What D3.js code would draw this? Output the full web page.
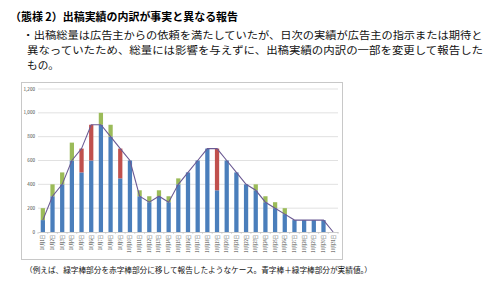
<!DOCTYPE html>
<html>
<head>
<meta charset="utf-8">
<script src="https://cdn.jsdelivr.net/npm/d3@7"></script>
<style>
  html, body { margin: 0; padding: 0; background: #fff; }
  svg { display: block; }
  text { font-family: "Noto Sans CJK JP", "Noto Sans", sans-serif; }
</style>
</head>
<body>
<div id="chart"></div>
<script>
// 10月の日次データ
const days = ["10月1日","10月2日","10月3日","10月4日","10月5日","10月6日","10月7日","10月8日",
  "10月9日","10月10日","10月11日","10月12日","10月13日","10月14日","10月15日","10月16日",
  "10月17日","10月18日","10月19日","10月20日","10月21日","10月22日","10月23日","10月24日",
  "10月25日","10月26日","10月27日","10月28日","10月29日","10月30日","10月31日"];
const blueVals  = [100,300,400,600,500,600,900,800,450,600,300,250,300,250,400,500,
                   600,700,350,600,500,400,350,250,200,150,100,100,100,100,0];
const redVals   = [0,0,0,0,200,300,0,0,250,0,0,0,0,0,0,0,
                   0,0,350,0,0,0,0,0,0,0,0,0,0,0,0];
const greenVals = [100,100,100,150,0,0,100,100,0,0,50,50,50,50,50,0,
                   0,0,0,0,0,0,50,50,50,50,0,0,0,0,0];
const lineVals  = [100,300,400,600,700,900,900,800,700,600,300,250,300,250,400,500,
                   600,700,700,600,500,400,350,250,200,150,100,100,100,100,0];
const yTicks = [0,200,400,600,800,1000,1200];

const W = 490, H = 292;
const svg = d3.select("#chart").append("svg")
    .attr("width", W).attr("height", H);

// 見出し・本文
svg.append("text")
    .attr("x", 10).attr("y", 21)
    .attr("font-size", 11).attr("font-weight", "bold")
    .attr("textLength", 228).attr("lengthAdjust", "spacingAndGlyphs")
    .text("（態様 2）出稿実績の内訳が事実と異なる報告");

const body = [
    {t: "・出稿総量は広告主からの依頼を満たしていたが、日次の実績が広告主の指示または期待と", x: 22.5, y: 38.5, w: 460},
    {t: "異なっていたため、総量には影響を与えずに、出稿実績の内訳の一部を変更して報告した", x: 27, y: 53.5, w: 456},
    {t: "もの。", x: 27, y: 68.5, w: 32}
];
body.forEach(b => {
    svg.append("text")
        .attr("x", b.x).attr("y", b.y)
        .attr("font-size", 10).attr("fill", "#111")
        .attr("textLength", b.w).attr("lengthAdjust", "spacingAndGlyphs")
        .text(b.t);
});

svg.append("text")
    .attr("x", 25).attr("y", 273)
    .attr("font-size", 7.5).attr("fill", "#111")
    .attr("textLength", 347).attr("lengthAdjust", "spacingAndGlyphs")
    .text("（例えば、緑字棒部分を赤字棒部分に移して報告したようなケース。青字棒＋緑字棒部分が実績値。）");

// グラフ枠
svg.append("rect")
    .attr("x", 21.5).attr("y", 82.5)
    .attr("width", 321).attr("height", 177)
    .attr("fill", "#fff").attr("stroke", "#c8c8c8").attr("stroke-width", 1);

const plot = {left: 38, right: 338, top: 89, bottom: 232};

const x = d3.scaleBand()
    .domain(days)
    .range([plot.left, plot.right])
    .paddingInner(0.56).paddingOuter(0.28);

const y = d3.scaleLinear()
    .domain([0, 1200])
    .range([plot.bottom, plot.top]);

// 目盛線
svg.append("g")
    .selectAll("line")
    .data(yTicks.filter(d => d > 0))
    .join("line")
    .attr("x1", plot.left).attr("x2", plot.right)
    .attr("y1", d => y(d)).attr("y2", d => y(d))
    .attr("stroke", "#d9d9d9").attr("stroke-width", 0.8);

svg.append("g")
    .selectAll("text")
    .data(yTicks)
    .join("text")
    .attr("x", 35).attr("y", d => y(d) + 1.6)
    .attr("text-anchor", "end")
    .attr("font-size", 4.6).attr("fill", "#444")
    .text(d => d3.format(",")(d));

// 積み上げ棒
const stacked = days.map((d, i) => ({day: d, blue: blueVals[i], red: redVals[i], green: greenVals[i]}));
const series = d3.stack().keys(["blue", "red", "green"])(stacked);
const colors = {blue: "#4a7ebb", red: "#c0504d", green: "#9bbb59"};

svg.append("g")
    .selectAll("g")
    .data(series)
    .join("g")
    .attr("fill", s => colors[s.key])
    .selectAll("rect")
    .data(s => s)
    .join("rect")
    .attr("x", d => x(d.data.day))
    .attr("width", x.bandwidth())
    .attr("y", d => y(d[1]))
    .attr("height", d => y(d[0]) - y(d[1]));

// 報告値の折れ線
const line = d3.line()
    .x((d, i) => x(days[i]) + x.bandwidth() / 2)
    .y(d => y(d));

svg.append("path")
    .datum(lineVals)
    .attr("d", line)
    .attr("fill", "none")
    .attr("stroke", "#6b5a93")
    .attr("stroke-width", 1.1);

// X軸
const xAxis = svg.append("g")
    .attr("transform", `translate(0,${plot.bottom})`)
    .call(d3.axisBottom(x).tickSize(0).tickFormat(""));
xAxis.select(".domain").attr("stroke", "#bfbfbf").attr("stroke-width", 0.8);

svg.append("g")
    .selectAll("line")
    .data(d3.range(days.length + 1))
    .join("line")
    .attr("x1", i => plot.left + i * (plot.right - plot.left) / days.length)
    .attr("x2", i => plot.left + i * (plot.right - plot.left) / days.length)
    .attr("y1", plot.bottom).attr("y2", plot.bottom + 2)
    .attr("stroke", "#bfbfbf").attr("stroke-width", 0.6);

svg.append("g")
    .selectAll("text")
    .data(days)
    .join("text")
    .attr("transform", d => `translate(${x(d) + x.bandwidth() / 2 + 1.5},${plot.bottom + 3}) rotate(-90)`)
    .attr("text-anchor", "end")
    .attr("font-size", 4.2).attr("fill", "#444")
    .text(d => d);
</script>
</body>
</html>
